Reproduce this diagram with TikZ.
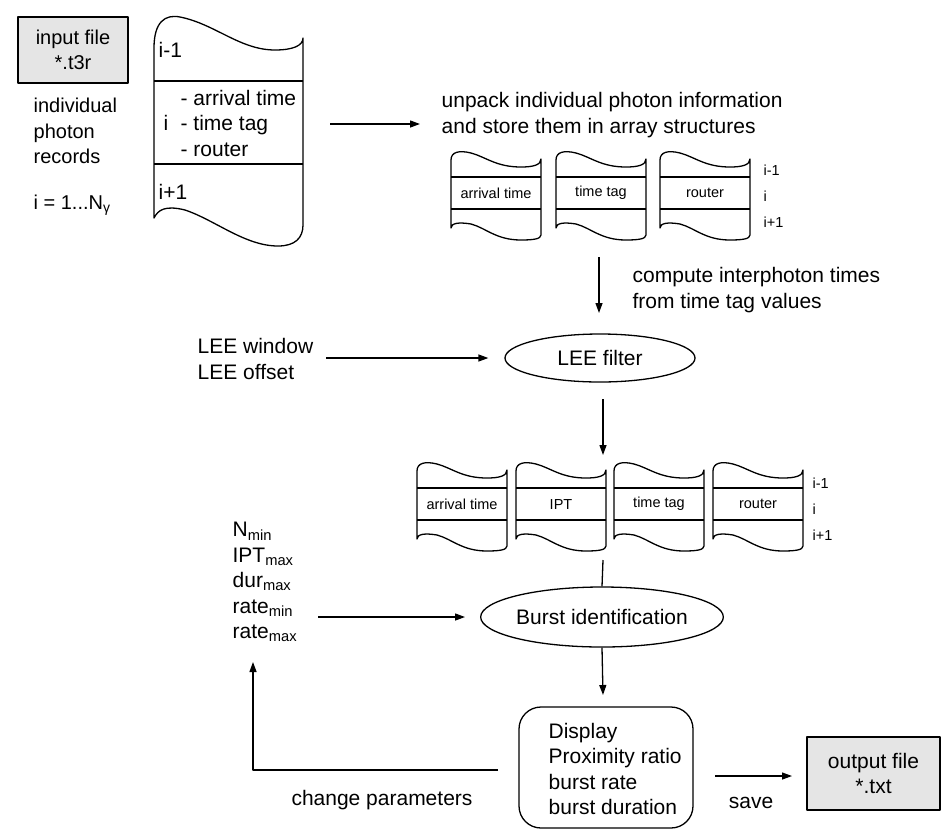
\documentclass[tikz,border=0pt]{standalone}
\usepackage{fontspec}
\setmainfont{Liberation Sans}
\usetikzlibrary{shapes.geometric,arrows.meta,positioning}
\definecolor{boxgray}{gray}{0.9}

\tikzset{
  pics/col/.style={code={
    \draw (0,9) .. controls (0,1) and (8,-1) .. (20,2) .. controls (35,6) and (45,16) .. (70,16) .. controls (82,16) and (90,14) .. (90,8) -- (90,84) .. controls (90,88) and (82,89) .. (70,89) .. controls (45,89) and (35,77) .. (20,73) .. controls (8,71) and (0,72) .. (0,77) -- cycle;
    \draw (0,26) -- (90,26) (0,58) -- (90,58);
    \node[smalltxt] (-t) at (45,42) {#1};
  }}
}

\begin{document}
\begin{tikzpicture}[x=1pt, y=-1pt, line width=1.3pt, line join=round,
  txt/.style={font=\fontsize{21}{25.5}\selectfont, inner sep=0pt, align=left},
  mtxt/.style={font=\fontsize{20}{25.5}\selectfont, inner sep=0pt, align=left},
  smalltxt/.style={font=\fontsize{14.5}{17}\selectfont, inner sep=0pt},
  idxtxt/.style={font=\fontsize{14.5}{26}\selectfont, inner sep=0pt, align=left, anchor=west},
  filebox/.style={draw, fill=boxgray, txt, align=center},
  oval/.style={draw, ellipse, txt, inner sep=0pt},
  arr/.style={-{Triangle[length=10pt,width=7pt]}}]
\useasboundingbox (0,0) rectangle (941,836);

% input records
\node[filebox, mtxt, align=center, minimum width=110, minimum height=66] (infile) at (73,50) {input file\\*.t3r};
\node[mtxt, anchor=west] (recs) at (33,131) {individual\\photon\\records};
\node[mtxt, anchor=west] (count) at (33,205) {i = 1...N\textsubscript{γ}};

\draw (154,48) .. controls (154,22) and (165,14) .. (180,17) .. controls (215,24) and (240,50) .. (275,50) .. controls (292,50) and (303,46) .. (303,38) -- (303,225) .. controls (303,238) and (295,246) .. (278,246) .. controls (245,246) and (215,220) .. (185,210) .. controls (165,205) and (158,210) .. (154,218) -- cycle;
\draw (154,81) -- (303,81) (154,164) -- (303,164);
\node[txt, anchor=west] (rprev) at (158,50) {i-1};
\node[txt, anchor=west] (rcur) at (163,123) {i};
\node[txt, anchor=west] (rfields) at (180,123) {- arrival time\\- time tag\\- router};
\node[txt, anchor=west] (rnext) at (158,192) {i+1};

% unpacked arrays
\node[txt, anchor=west] (unpack) at (441,115) {unpack individual photon information\\and store them in array structures};
\coordinate (recout) at (330,124);
\coordinate (unpackin) at (420,124);
\draw[arr] (recout) -- (unpackin);

\foreach \name/\x/\lab in {a1/451/arrival time, a2/556/time tag, a3/660/router}
  \pic (\name) at (\x,151) {col=\lab};
\node[idxtxt] (idx1) at (763,196) {i-1\\i\\i+1};

% LEE filter
\coordinate (r1out) at (599,257);
\coordinate (leein) at (599,313);
\draw[arr] (r1out) -- (leein);
\node[txt, anchor=west] (ipt) at (632,290) {compute interphoton times\\from time tag values};
\node[oval, minimum width=190, minimum height=48] (lee) at (600,358) {LEE filter};
\node[txt, anchor=west] (leepar) at (197,359) {LEE window\\LEE offset};
\coordinate (leeparout) at (326,358);
\draw[arr] (leeparout) -- ([xshift=-16pt]lee.west);

\coordinate (leeout) at (603,399);
\coordinate (r2in) at (603,455);
\draw[arr] (leeout) -- (r2in);

\foreach \name/\x/\lab in {b1/417/arrival time, b2/516/IPT, b3/614/time tag, b4/713/router}
  \pic (\name) at (\x,462) {col=\lab};
\node[idxtxt] (idx2) at (812,509) {i-1\\i\\i+1};

% burst search
\node[oval, minimum width=210, minimum height=60] (burst) at (602,617) {Burst identification};
\coordinate (r2out) at (603,560);
\draw (r2out) -- (burst.north);
\node[txt, anchor=west] (par) at (232,582) {N\textsubscript{min}\\IPT\textsubscript{max}\\dur\textsubscript{max}\\rate\textsubscript{min}\\rate\textsubscript{max}};
\coordinate (parout) at (318,617);
\draw[arr] (parout) -- ([xshift=-15pt]burst.west);

\node[draw, rounded corners=22pt, minimum width=174, minimum height=121] (disp) at (606,767.5) {};
\node[txt, anchor=west] (disptxt) at (548,769) {Display\\Proximity ratio\\burst rate\\burst duration};
\coordinate (dispin) at (603,695);
\draw[arr] (burst.south) -- (dispin);

\coordinate (dispout) at (498,770);
\coordinate (parin) at (253,662);
\draw[arr] (dispout) -- (parin |- dispout) -- (parin);
\node[txt] (chg) at (382,800) {change parameters};

\coordinate (saveout) at (715,776);
\coordinate (savein) at (792,776);
\draw[arr] (saveout) -- (savein);
\node[txt] (save) at (751,803) {save};
\node[filebox, minimum width=133, minimum height=73] (outfile) at (873.5,773.5) {output file\\*.txt};
\end{tikzpicture}
\end{document}
